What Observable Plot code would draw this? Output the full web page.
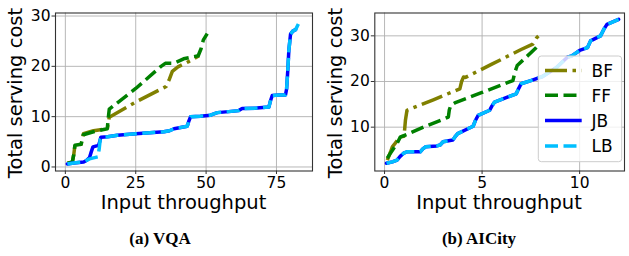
<!DOCTYPE html>
<html>
<head>
<meta charset="utf-8">
<script src="https://cdn.jsdelivr.net/npm/d3@7"></script>
<script src="https://cdn.jsdelivr.net/npm/@observablehq/plot@0.6"></script>
<style>
  html, body { margin: 0; padding: 0; background: #fff; }
  #root { position: relative; width: 629px; height: 256px; overflow: hidden; background: #fff; }
  #root > svg { position: absolute; top: 0; }
  .txt { font-family: "DejaVu Sans", sans-serif; fill: #000; }
  .cap { font-family: "Liberation Serif", serif; font-weight: bold; fill: #000; }
</style>
</head>
<body>
<div id="root"></div>
<script>
// ---------- data ----------
const seriesNames = ["BF", "FF", "JB", "LB"];
const seriesColors = ["#808000", "#008000", "#0000ff", "#00bfff"];
const seriesDash = ["22,5.5,3.5,5.5", "13,5.5", null, "13,5.5"];

// (a) VQA
const vqaTicksX = [0, 25, 50, 75];
const vqaTicksY = [0, 10, 20, 30];
const vqaBF_x = [0.7, 2.5, 3.0, 3.4, 5.6, 6.0, 6.4, 10, 14.9, 15.3, 15.6, 25, 35.8, 37.0, 38.0, 40, 44, 47.5];
const vqaBF_y = [0.7, 1.0, 2.5, 4.3, 4.5, 5.5, 6.6, 7.2, 7.6, 8.8, 9.9, 12.9, 16.0, 17.5, 19.0, 19.9, 21.0, 22.1];
const vqaFF_x = [0.7, 2.5, 3.0, 3.4, 5.6, 6.0, 6.4, 10, 14.9, 15.2, 15.6, 25, 34, 35.5, 38.5, 42, 47.2, 48.2, 49, 50.4];
const vqaFF_y = [0.7, 1.0, 2.5, 4.3, 4.5, 5.5, 6.4, 7.0, 7.6, 9.5, 11.5, 15.6, 20.0, 20.6, 20.6, 21.5, 22.1, 23.5, 25.2, 26.5];
const vqaJB_x = [0.7, 3, 6.5, 7.5, 8.6, 9.2, 9.8, 11.8, 12.2, 12.6, 15, 18.5, 25, 30, 35, 37, 38.6, 43.3, 43.8, 44.5, 48, 51.6, 53, 54, 58, 61.6, 62.8, 68, 72.3, 72.8, 73.5, 76, 78.2, 78.6, 79.0, 79.4, 80, 80.8, 81.8];
const vqaJB_y = [0.6, 0.8, 1.0, 1.3, 1.9, 3.0, 4.0, 4.3, 5.0, 5.9, 6.0, 6.3, 6.6, 6.8, 7.0, 7.2, 7.6, 8.1, 9.0, 10.0, 10.1, 10.3, 10.6, 10.8, 11.0, 11.2, 11.6, 11.7, 11.9, 13.0, 14.2, 14.3, 14.3, 15.5, 19, 23.2, 26.4, 27.0, 27.3];
const vqaLB_x = [0.7, 3, 6.5, 7.5, 8.6, 10, 11.5, 12.0, 12.4, 13, 15, 18.5, 25, 30, 35, 37, 38.6, 43.3, 43.8, 44.5, 48, 51.6, 53, 54, 58, 61.6, 62.8, 68, 72.3, 72.8, 73.5, 76, 78.2, 78.6, 79.0, 79.4, 80, 80.8, 81.8, 82.6, 83.5];
const vqaLB_y = [0.6, 0.8, 1.0, 1.3, 1.6, 1.8, 2.0, 3.5, 5.5, 5.9, 6.0, 6.3, 6.6, 6.8, 7.0, 7.2, 7.6, 8.1, 9.0, 10.0, 10.1, 10.3, 10.6, 10.8, 11.0, 11.2, 11.6, 11.7, 11.9, 13.0, 14.2, 14.3, 14.3, 15.5, 19, 23.2, 26.4, 27.0, 27.3, 28.2, 29.2];

// (b) AICity
const aicTicksX = [0, 5, 10];
const aicTicksY = [10, 20, 30];
const aicBF_x = [0.14, 0.3, 0.4, 0.55, 0.8, 1.0, 1.07, 1.15, 2.5, 3.86, 3.95, 4.05, 4.15, 5.5, 7.0, 7.6, 7.8, 8.05];
const aicBF_y = [2.8, 4.5, 5.7, 6.5, 7.9, 8.0, 11.5, 13.7, 16.0, 18.4, 20.0, 21.0, 20.9, 23.8, 27.0, 28.2, 29.6, 30.6];
const aicFF_x = [0.14, 0.3, 0.64, 0.8, 2.0, 3.27, 3.32, 3.4, 3.6, 5.0, 6.58, 6.68, 6.8, 7.25, 7.7, 7.95];
const aicFF_y = [3.2, 4.3, 6.4, 7.8, 10.0, 12.2, 13.8, 14.8, 15.3, 17.6, 20.2, 22.0, 23.5, 25.3, 27.1, 28.3];
const aicJB_x = [0.1, 0.4, 0.64, 0.8, 0.98, 1.15, 1.83, 1.95, 2.1, 2.68, 2.85, 3.0, 3.5, 3.6, 3.75, 4.54, 4.65, 4.8, 5.39, 5.5, 5.64, 6.75, 6.88, 7.0, 7.5, 8.1, 8.8, 9.37, 9.6, 10.0, 10.4, 10.56, 11.07, 11.25, 11.4, 12.0];
const aicJB_y = [2.1, 2.4, 2.8, 3.6, 4.3, 4.6, 4.6, 5.2, 5.7, 5.9, 6.1, 6.8, 7.2, 7.8, 8.6, 10.2, 11.4, 12.6, 13.7, 14.6, 15.5, 17.3, 18.5, 19.5, 20.2, 21.1, 23.0, 25.3, 25.6, 26.8, 27.4, 28.9, 30.0, 31.5, 32.5, 33.6];
const aicLB_x = [0.1, 0.4, 0.64, 0.8, 0.98, 1.15, 1.83, 1.95, 2.1, 2.68, 2.85, 3.0, 3.5, 3.6, 3.75, 4.54, 4.65, 4.8, 5.39, 5.5, 5.64, 6.75, 6.88, 7.0, 7.5, 8.1, 8.8, 9.37, 9.6, 10.0, 10.4, 10.56, 11.07, 11.25, 11.4, 12.0];
const aicLB_y = [2.1, 2.4, 2.8, 3.6, 4.3, 4.6, 4.6, 5.2, 5.7, 5.9, 6.1, 6.8, 7.2, 7.8, 8.6, 10.2, 11.4, 12.6, 13.7, 14.6, 15.5, 17.3, 18.5, 19.5, 20.2, 21.1, 23.0, 25.3, 25.6, 26.8, 27.4, 28.9, 30.0, 31.5, 32.5, 33.6];

const axisTitleX = "Input throughput";
const axisTitleY = "Total serving cost";
const captions = ["(a) VQA", "(b) AICity"];

// ---------- drawing ----------
const pts = (xs, ys) => xs.map((x, i) => ({x, y: ys[i]}));
const W = 3.5;

function panel({series, xDomain, yDomain, xTicks, yTicks, width, marginLeft, marginRight}) {
  const lines = series.map((s, i) => Plot.line(pts(s[0], s[1]), {
    x: "x", y: "y",
    stroke: seriesColors[i],
    strokeWidth: W,
    strokeDasharray: seriesDash[i] || undefined,
    strokeLinejoin: "round",
    strokeLinecap: seriesDash[i] ? "butt" : "round"
  }));
  return Plot.plot({
    width, height: 256,
    marginLeft, marginRight, marginTop: 12.5, marginBottom: 85.5,
    x: {domain: xDomain, label: null},
    y: {domain: yDomain, label: null},
    style: {fontFamily: "DejaVu Sans, sans-serif", fontSize: "15.5px", color: "#000", background: "transparent", overflow: "visible"},
    marks: [
      Plot.gridX(xTicks, {stroke: "#b0b0b0", strokeOpacity: 1, strokeWidth: 0.9}),
      Plot.gridY(yTicks, {stroke: "#b0b0b0", strokeOpacity: 1, strokeWidth: 0.9}),
      ...lines,
      Plot.frame({stroke: "#333", strokeWidth: 1.1}),
      Plot.axisX(xTicks, {tickSize: 3.5, tickPadding: 2, label: null, stroke: "#333"}),
      Plot.axisY(yTicks, {tickSize: 3.5, tickPadding: 1.5, label: null, stroke: "#333"})
    ]
  });
}

const root = document.getElementById("root");

const left = panel({
  series: [[vqaBF_x, vqaBF_y], [vqaFF_x, vqaFF_y], [vqaJB_x, vqaJB_y], [vqaLB_x, vqaLB_y]],
  xDomain: [-3.5, 87.8], yDomain: [-0.8, 30.6],
  xTicks: vqaTicksX, yTicks: vqaTicksY,
  width: 320, marginLeft: 55, marginRight: 8
});
left.style.left = "0px";
root.appendChild(left);

const right = panel({
  series: [[aicBF_x, aicBF_y], [aicFF_x, aicFF_y], [aicJB_x, aicJB_y], [aicLB_x, aicLB_y]],
  xDomain: [-0.5, 12.3], yDomain: [0.4, 35],
  xTicks: aicTicksX, yTicks: aicTicksY,
  width: 319, marginLeft: 64.3, marginRight: 5
});
right.style.left = "310px";
root.appendChild(right);

// overlay: titles, captions, legend
const NS = "http://www.w3.org/2000/svg";
const ov = document.createElementNS(NS, "svg");
ov.setAttribute("width", 629); ov.setAttribute("height", 256);
ov.style.left = "0px"; ov.style.pointerEvents = "none";
root.appendChild(ov);
function el(tag, attrs, text) {
  const e = document.createElementNS(NS, tag);
  for (const k in attrs) e.setAttribute(k, attrs[k]);
  if (text != null) e.textContent = text;
  ov.appendChild(e);
  return e;
}
// x titles
[[183.5], [499]].forEach(([cx]) => el("text", {class: "txt", x: cx, y: 209, "text-anchor": "middle", "font-size": "19.5px"}, axisTitleX));
// y titles
[[22.2], [342.2]].forEach(([bx]) => el("text", {class: "txt", transform: `translate(${bx},93) rotate(-90)`, "text-anchor": "middle", "font-size": "19.5px"}, axisTitleY));
// captions
el("text", {class: "cap", x: 160, y: 244, "text-anchor": "middle", "font-size": "17px"}, captions[0]);
el("text", {class: "cap", x: 479, y: 244, "text-anchor": "middle", "font-size": "17px"}, captions[1]);
// legend
el("rect", {x: 538.3, y: 56, width: 83.4, height: 105.7, rx: 3, fill: "#fff", "fill-opacity": 0.8, stroke: "#cccccc", "stroke-width": 1});
const legY = [70.5, 95.3, 120.5, 146];
seriesNames.forEach((n, i) => {
  const a = {x1: 545, x2: 581.7, y1: legY[i], y2: legY[i], stroke: seriesColors[i], "stroke-width": W};
  if (seriesDash[i]) a["stroke-dasharray"] = seriesDash[i];
  el("line", a);
  el("text", {class: "txt", x: 591.5, y: legY[i] + 6.2, "font-size": "17px"}, n);
});
</script>
</body>
</html>
